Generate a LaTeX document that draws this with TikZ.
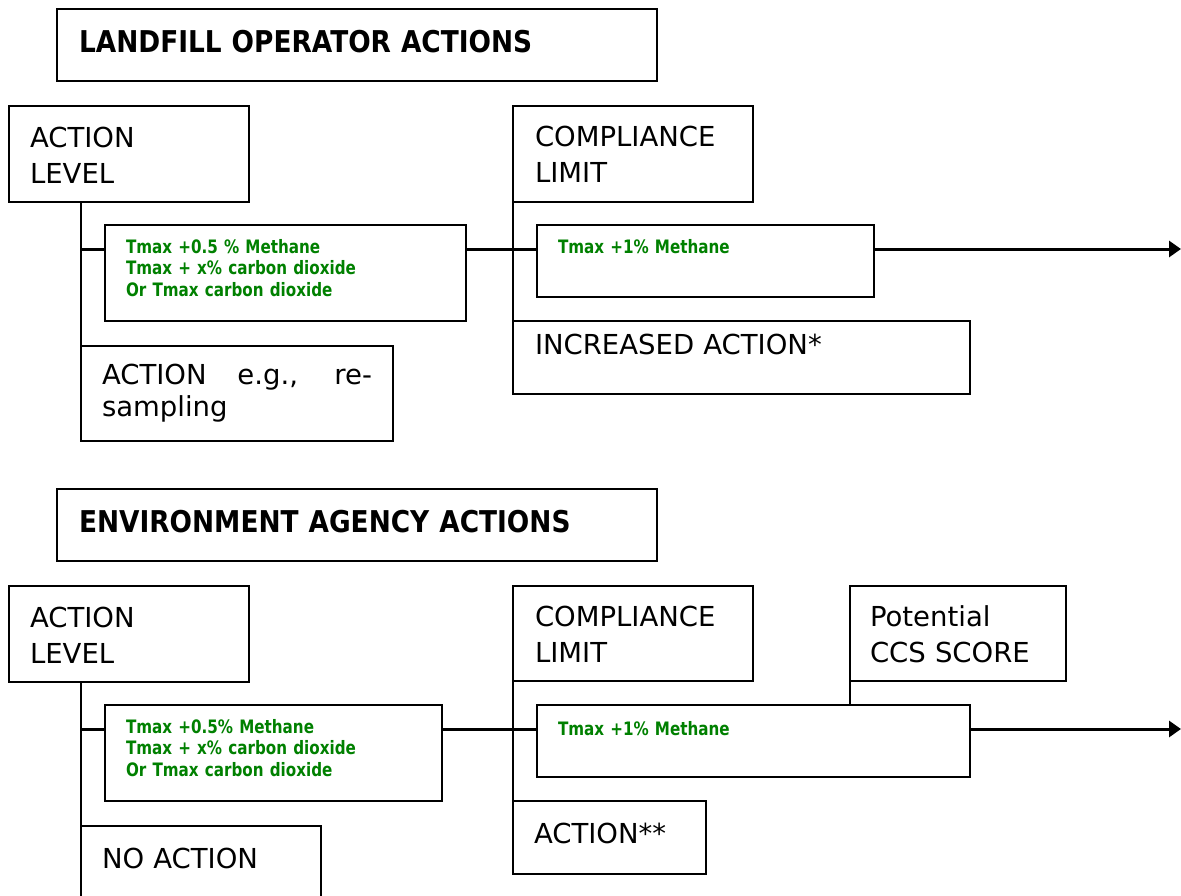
\documentclass[tikz,border=0pt]{standalone}
\usepackage{fontspec}
\setmainfont{DejaVu Sans}
\newfontfamily\limitfont{DejaVu Sans}[FakeStretch=0.82]
\newfontfamily\titlefont{DejaVu Sans}[FakeStretch=0.88]
\usetikzlibrary{arrows.meta}
\definecolor{limitgreen}{RGB}{0,128,0}

\begin{document}
\begin{tikzpicture}[x=1pt,y=-1pt,
  box/.style={draw,line width=2.4pt,anchor=north west,outer sep=0pt,inner ysep=0pt,inner xsep=21pt,align=left,font=\fontsize{27.5}{36}\selectfont},
  title/.style={box,inner xsep=22pt,font=\titlefont\fontsize{30}{36}\selectfont\bfseries},
  limit/.style={box,text=limitgreen,font=\limitfont\fontsize{18.5}{21.7}\selectfont\bfseries},
  link/.style={line width=2.4pt},
  flow/.style={line width=3pt},
  arr/.style={flow,-{Triangle[length=12pt,width=16pt]}}]
\path[use as bounding box,clip] (0,0) rectangle (1181,895);

% landfill operator
\node[title,text width=556pt,text height=43pt,text depth=29pt] (ttl1) at (57,9) {LANDFILL OPERATOR ACTIONS};
\node[box,text width=198pt,text height=41pt,text depth=55pt] (al1) at (9,106) {ACTION\\LEVEL};
\node[box,inner xsep=22pt,text width=196pt,text height=40pt,text depth=56pt] (cl1) at (513,106) {COMPLIANCE\\LIMIT};
\node[limit,text width=319pt,text height=28pt,text depth=68pt] (g11) at (105,225) {Tmax +0.5 \% Methane\\Tmax + x\% carbon dioxide\\Or Tmax carbon dioxide};
\node[limit,text width=295pt,text height=28pt,text depth=44pt] (g21) at (537,225) {Tmax +1\% Methane};
\node[box,inner xsep=22pt,text width=413pt,text height=33pt,text depth=40pt] (inc1) at (513,321) {INCREASED ACTION*};
\node[box,align=justify,font=\fontsize{27.5}{32}\selectfont,text width=270pt,text height=38pt,text depth=57pt] (eg1) at (81,346) {ACTION e.g., re-\linebreak sampling};

\coordinate (r1) at ([yshift=-24pt]g11.north west);
\coordinate (end1) at (1181,249);
\draw[link] (al1.south -| eg1.west) -- (eg1.north west);
\draw[flow] (r1 -| eg1.west) -- (r1);
\draw[flow] (r1 -| g11.east) -- (r1 -| g21.west);
\draw[link] (cl1.south west) -- (inc1.north west);
\draw[arr] (r1 -| g21.east) -- (end1);

% environment agency
\node[title,text width=556pt,text height=43pt,text depth=29pt] (ttl2) at (57,489) {ENVIRONMENT AGENCY ACTIONS};
\node[box,text width=198pt,text height=41pt,text depth=55pt] (al2) at (9,586) {ACTION\\LEVEL};
\node[box,inner xsep=22pt,text width=196pt,text height=40pt,text depth=55pt] (cl2) at (513,586) {COMPLIANCE\\LIMIT};
\node[box,inner xsep=20pt,text width=176pt,text height=40pt,text depth=55pt] (pcs2) at (850,586) {Potential\\CCS SCORE};
\node[limit,text width=295pt,text height=28pt,text depth=68pt] (g12) at (105,705) {Tmax +0.5\% Methane\\Tmax + x\% carbon dioxide\\Or Tmax carbon dioxide};
\node[limit,text width=391pt,text height=30pt,text depth=42pt] (g22) at (537,705) {Tmax +1\% Methane};
\node[box,text width=151pt,text height=42pt,text depth=31pt] (act2) at (513,801) {ACTION**};
\node[box,text width=198pt,text height=42pt,text depth=80pt] (no2) at (81,826) {NO ACTION};

\coordinate (r2) at ([yshift=-24pt]g12.north west);
\coordinate (end2) at (1181,729);
\draw[link] (al2.south -| no2.west) -- (no2.north west);
\draw[flow] (r2 -| no2.west) -- (r2);
\draw[flow] (r2 -| g12.east) -- (r2 -| g22.west);
\draw[link] (cl2.south west) -- (act2.north west);
\draw[link] (pcs2.south west) -- (pcs2.south west |- g22.north);
\draw[arr] (r2 -| g22.east) -- (end2);

\end{tikzpicture}
\end{document}
